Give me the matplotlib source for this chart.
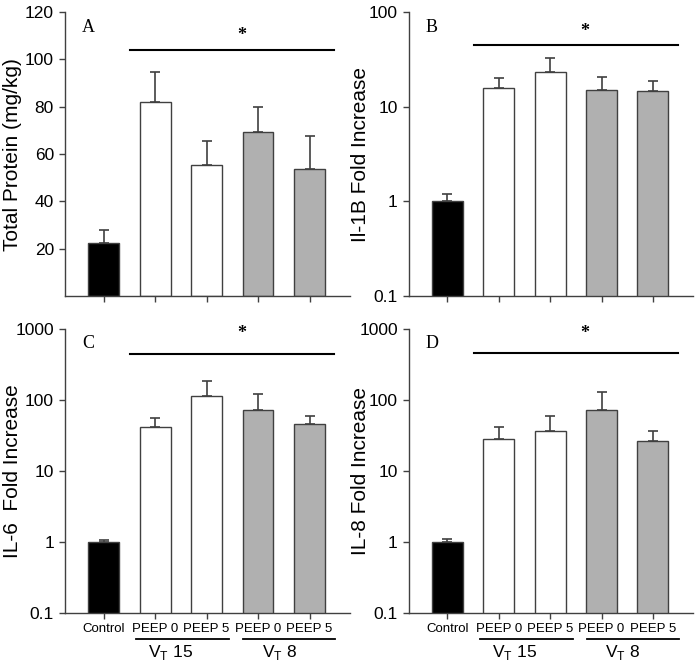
"""
Four panel bar chart: total protein and cytokine fold increases per group.
"""

import matplotlib as mpl
import matplotlib.pyplot as plt
import matplotlib.transforms as mtransforms

mpl.use("Agg")
plt.rcParams["font.family"] = ["Liberation Sans", "DejaVu Sans"]

groups = ["Control", "PEEP 0", "PEEP 5", "PEEP 0", "PEEP 5"]
bar_colors = ["#000000", "#ffffff", "#ffffff", "#b0b0b0", "#b0b0b0"]

protein_mean = [22.5, 82.0, 55.3, 69.4, 53.9]
protein_top = [27.8, 94.6, 65.5, 79.8, 67.8]

il1b_mean = [1.0, 15.8, 23.0, 14.9, 14.6]
il1b_top = [1.2, 20.0, 33.0, 20.5, 18.6]

il6_mean = [1.0, 42.0, 114.0, 72.0, 46.0]
il6_top = [1.08, 56.0, 183.0, 120.0, 60.0]

il8_mean = [1.0, 28.0, 36.0, 72.0, 26.0]
il8_top = [1.09, 42.0, 60.0, 130.0, 37.0]

EDGE = "#404040"

fig = plt.figure(figsize=(6.96, 6.67), dpi=100)

panels = [
    # letter, means, tops, ylabel, log, rect, sig line y, star y, label x
    ("A", protein_mean, protein_top, "Total Protein (mg/kg)", False,
     [0.0934, 0.556, 0.409, 0.426], 104, 110, -0.152),
    ("B", il1b_mean, il1b_top, "Il-1B Fold Increase", True,
     [0.5876, 0.556, 0.408, 0.426], 45, 63, -0.137),
    ("C", il6_mean, il6_top, "IL-6  Fold Increase", True,
     [0.0934, 0.081, 0.409, 0.426], 446, 860, -0.152),
    ("D", il8_mean, il8_top, "IL-8 Fold Increase", True,
     [0.5876, 0.081, 0.408, 0.426], 457, 870, -0.137),
]

for i, (letter, means, tops, ylabel, is_log, rect, sig_y, star_y, lab_x) in enumerate(panels):
    ax = fig.add_axes(rect)
    x = list(range(len(groups)))
    ax.bar(x, means, width=0.6, color=bar_colors, edgecolor=EDGE, linewidth=1.0, zorder=2)
    err_up = [t - m for t, m in zip(tops, means)]
    ax.errorbar(x, means, yerr=[[0] * len(means), err_up], fmt="none",
                ecolor=EDGE, elinewidth=1.2, capsize=3.6, capthick=1.2, zorder=1)

    ax.set_xlim(-0.75, 4.78)
    if is_log:
        ax.set_yscale("log")
        top = 100 if letter == "B" else 1000
        ax.set_ylim(0.1, top)
        ticks = [t for t in [0.1, 1, 10, 100, 1000] if t <= top]
        ax.set_yticks(ticks)
        ax.set_yticklabels([f"{t:g}" for t in ticks])
        ax.yaxis.set_minor_locator(mpl.ticker.NullLocator())
    else:
        ax.set_ylim(0, 120)
        ax.set_yticks([20, 40, 60, 80, 100, 120])

    for side in ["top", "right"]:
        ax.spines[side].set_visible(False)
    for side in ["left", "bottom"]:
        ax.spines[side].set_color(EDGE)
        ax.spines[side].set_linewidth(1.0)
    ax.tick_params(axis="both", direction="out", length=4.5, width=1.0,
                   color=EDGE, labelsize=12.5)
    ax.set_xticks(x)
    ax.set_ylabel(ylabel, fontsize=15)
    ax.yaxis.set_label_coords(lab_x, 0.5)

    ax.text(0.06, 0.947, letter, transform=ax.transAxes, fontsize=13,
            family="Liberation Serif", va="center", ha="left")

    # significance bar
    ax.plot([0.52, 4.48], [sig_y, sig_y], color="black", linewidth=1.5, clip_on=False)
    ax.text(2.68, star_y, "*", fontsize=13, ha="center", va="center",
            family="Liberation Serif", fontweight="bold")

    if i >= 2:
        ax.set_xticklabels(groups, fontsize=9.5)
        ax.tick_params(axis="x", pad=3)
        trans = mtransforms.blended_transform_factory(ax.transData, ax.transAxes)
        ax.plot([0.63, 2.44], [-0.092, -0.092], color="black", linewidth=1.3,
                transform=trans, clip_on=False)
        ax.plot([2.71, 4.5], [-0.092, -0.092], color="black", linewidth=1.3,
                transform=trans, clip_on=False)
        ax.text(1.3, -0.14, r"V$_\mathregular{T}$ 15", fontsize=12.5,
                transform=trans, ha="center", va="center")
        ax.text(3.42, -0.14, r"V$_\mathregular{T}$ 8", fontsize=12.5,
                transform=trans, ha="center", va="center")
    else:
        ax.set_xticklabels([])

fig.savefig("out.png", dpi=100)
